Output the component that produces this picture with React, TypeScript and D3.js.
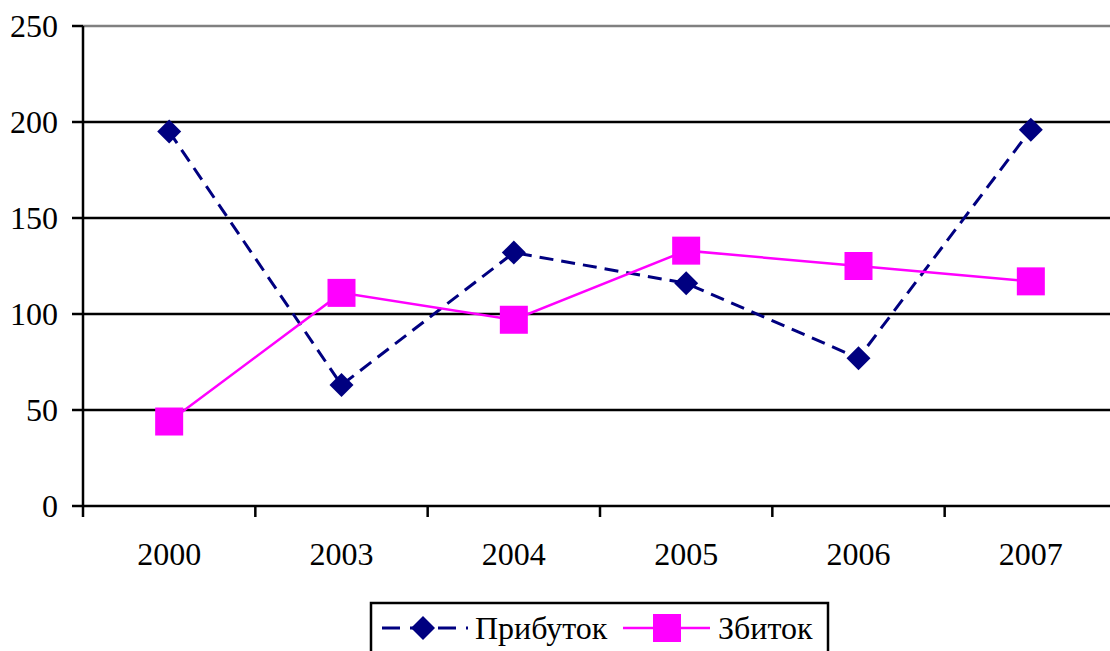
import React from "react";
import * as d3 from "d3";

const categories = ["2000", "2003", "2004", "2005", "2006", "2007"];
const profit = [195, 63, 132, 116, 77, 196];
const loss = [44, 111, 97, 133, 125, 117];
const yTicks = [0, 50, 100, 150, 200, 250];
const seriesNames = ["Прибуток", "Збиток"];

const W = 1110;
const H = 651;
const left = 83;
const top = 26;
const bottom = 506;
const plotRight = 1117;

const font = "'Liberation Serif', 'Times New Roman', serif";
const txt: React.CSSProperties = { fontFamily: font, fontSize: 32 };

export default function App() {
  const x = d3.scaleBand<string>().domain(categories).range([left, plotRight]);
  const y = d3.scaleLinear().domain([0, 250]).range([bottom, top]);
  const cx = (c: string) => (x(c) as number) + x.bandwidth() / 2;
  const line = d3
    .line<number>()
    .x((_, i) => cx(categories[i]))
    .y((d) => y(d));
  const diamond = (px: number, py: number, r: number) =>
    `M${px},${py - r}L${px + r},${py}L${px},${py + r}L${px - r},${py}Z`;
  const tickXs = categories.map((c) => x(c) as number).concat([plotRight]);

  return (
    <svg
      width={W}
      height={H}
      style={{ position: "fixed", left: 0, top: 0, background: "#fff" }}
    >
      {yTicks.slice(1, -1).map((t) => (
        <line key={t} x1={left} x2={W} y1={y(t)} y2={y(t)} stroke="#000" strokeWidth={2.5} />
      ))}
      <line x1={left} x2={W} y1={y(250)} y2={y(250)} stroke="#808080" strokeWidth={2.5} />
      <line x1={left} x2={left} y1={top} y2={bottom} stroke="#000" strokeWidth={2.5} />
      <line x1={left} x2={W} y1={bottom} y2={bottom} stroke="#000" strokeWidth={2.5} />
      {yTicks.map((t) => (
        <g key={t}>
          <line x1={left - 11} x2={left} y1={y(t)} y2={y(t)} stroke="#000" strokeWidth={2.5} />
          <text x={58} y={y(t)} dy="0.35em" textAnchor="end" style={txt}>
            {t}
          </text>
        </g>
      ))}
      {tickXs.map((tx, i) => (
        <line key={i} x1={tx} x2={tx} y1={bottom} y2={bottom + 11} stroke="#000" strokeWidth={2.5} />
      ))}
      {categories.map((c) => (
        <text key={c} x={cx(c)} y={565} textAnchor="middle" style={txt}>
          {c}
        </text>
      ))}
      <path d={line(profit) || ""} fill="none" stroke="#000080" strokeWidth={3} strokeDasharray="14,8" />
      <path d={line(loss) || ""} fill="none" stroke="#FF00FF" strokeWidth={2.5} />
      {profit.map((v, i) => (
        <path key={i} d={diamond(cx(categories[i]), y(v), 12)} fill="#000080" />
      ))}
      {loss.map((v, i) => (
        <rect key={i} x={cx(categories[i]) - 14} y={y(v) - 14} width={28} height={28} fill="#FF00FF" />
      ))}
      <rect x={371} y={603} width={457} height={60} fill="#fff" stroke="#000" strokeWidth={2.5} />
      <line x1={382} x2={468} y1={628} y2={628} stroke="#000080" strokeWidth={3} strokeDasharray="18,10" />
      <path d={diamond(423, 628, 12)} fill="#000080" />
      <text x={475} y={628} dy="0.35em" style={txt}>
        {seriesNames[0]}
      </text>
      <line x1={623} x2={710} y1={628} y2={628} stroke="#FF00FF" strokeWidth={2.5} />
      <rect x={653} y={614} width={28} height={28} fill="#FF00FF" />
      <text x={718} y={628} dy="0.35em" style={txt}>
        {seriesNames[1]}
      </text>
    </svg>
  );
}
